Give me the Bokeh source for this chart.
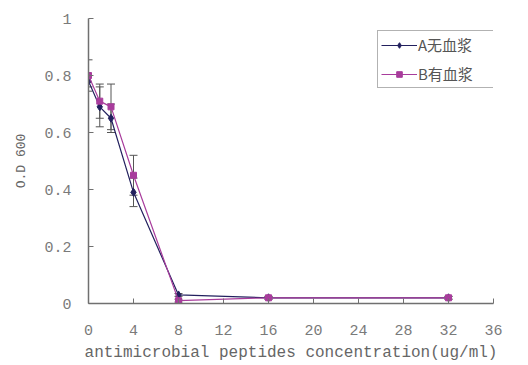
from bokeh.plotting import figure
from bokeh.models import FixedTicker, Whisker, ColumnDataSource, Legend, LegendItem, Range1d
from bokeh.embed import file_html
from bokeh.resources import INLINE

conc = [0, 1, 2, 4, 8, 16, 32]
series_a = [0.78, 0.69, 0.65, 0.39, 0.03, 0.02, 0.02]
err_a = [0.02, 0.07, 0.05, 0.05, 0.005, 0.005, 0.005]
series_b = [0.80, 0.71, 0.69, 0.45, 0.01, 0.02, 0.02]
err_b = [0.055, 0.06, 0.08, 0.07, 0.005, 0.005, 0.005]
x_ticks = [0, 4, 8, 12, 16, 20, 24, 28, 32, 36]
y_ticks = [0, 0.2, 0.4, 0.6, 0.8, 1.0]
y_tick_labels = ["0", "0.2", "0.4", "0.6", "0.8", "1"]
name_a = "A无血浆"
name_b = "B有血浆"

col_a = "#22205e"
col_b = "#a83c9c"
mono = "Liberation Mono"
gray = "#7a7a7a"

p = figure(width=528, height=365, output_backend="svg", toolbar_location=None,
           x_range=Range1d(0, 36), y_range=Range1d(0, 1),
           min_border_left=88, min_border_right=35, min_border_top=18, min_border_bottom=62)
p.outline_line_color = None
p.grid.visible = False
p.background_fill_color = "white"

src_a = ColumnDataSource(dict(x=conc, y=series_a,
                              lo=[v - e for v, e in zip(series_a, err_a)],
                              hi=[v + e for v, e in zip(series_a, err_a)]))
src_b = ColumnDataSource(dict(x=conc, y=series_b,
                              lo=[v - e for v, e in zip(series_b, err_b)],
                              hi=[v + e for v, e in zip(series_b, err_b)]))

for src, c in ((src_a, col_a), (src_b, col_b)):
    w = Whisker(source=src, base="x", lower="lo", upper="hi", line_color="#555555", line_width=1)
    w.upper_head.size = 8
    w.lower_head.size = 8
    w.upper_head.line_color = "#555555"
    w.lower_head.line_color = "#555555"
    p.add_layout(w)

la = p.line("x", "y", source=src_a, line_color=col_a, line_width=1.2)
ma = p.scatter("x", "y", source=src_a, marker="diamond", size=8, fill_color=col_a, line_color=col_a)
lb = p.line("x", "y", source=src_b, line_color=col_b, line_width=1.2)
mb = p.scatter("x", "y", source=src_b, marker="square", size=6, fill_color=col_b, line_color=col_b)

legend = Legend(items=[LegendItem(label=name_a, renderers=[la, ma]),
                       LegendItem(label=name_b, renderers=[lb, mb])],
                location=(289, 215))
legend.label_text_font = "Noto Sans CJK SC"
legend.label_text_font_size = "15px"
legend.label_text_color = "#555555"
legend.border_line_color = "#666666"
legend.border_line_width = 1
legend.glyph_width = 36
legend.glyph_height = 14
legend.label_height = 14
legend.label_width = 77
legend.padding = 3
legend.spacing = 8
legend.margin = 0
legend.label_standoff = 1
p.add_layout(legend, "center")

p.xaxis.ticker = FixedTicker(ticks=x_ticks)
p.yaxis.ticker = FixedTicker(ticks=y_ticks)
p.yaxis.major_label_overrides = {t: l for t, l in zip(y_ticks, y_tick_labels)}
for ax in (p.xaxis, p.yaxis):
    ax.axis_line_color = "#707070"
    ax.axis_line_width = 1.5
    ax.major_tick_line_color = "#707070"
    ax.major_tick_in = 5
    ax.major_tick_out = 0
    ax.minor_tick_line_color = None
    ax.major_label_text_font = mono
    ax.major_label_text_font_size = "15px"
    ax.major_label_text_color = gray
    ax.axis_label_text_font = mono
    ax.axis_label_text_font_style = "normal"
    ax.axis_label_text_color = "#666666"
p.xaxis.major_label_standoff = 21
p.yaxis.major_label_standoff = 17
p.xaxis.axis_label = "antimicrobial peptides concentration(ug/ml)"
p.xaxis.axis_label_text_font_size = "16px"
p.xaxis.axis_label_standoff = 6
p.yaxis.axis_label = "O.D 600"
p.yaxis.axis_label_text_font_size = "13px"
p.yaxis.axis_label_standoff = 12

open("out.html", "w").write(file_html(p, INLINE))
